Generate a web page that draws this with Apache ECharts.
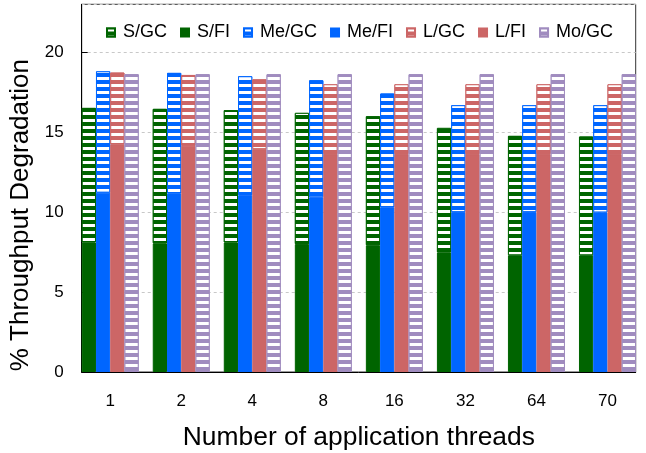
<!DOCTYPE html>
<html>
<head>
<meta charset="utf-8">
<script src="https://cdn.jsdelivr.net/npm/echarts@6/dist/echarts.min.js"></script>
<style>
html,body{margin:0;padding:0;background:#fff;}
#chart{width:646px;height:453px;}
</style>
</head>
<body>
<div id="chart"></div>
<script>
// Categories (number of application threads)
const categories = ['1', '2', '4', '8', '16', '32', '64', '70'];

// Stacked segments (% throughput degradation)
const sFI  = [8.10, 8.05, 8.10, 8.00, 7.93, 7.48, 7.30, 7.30];
const sGC  = [8.42, 8.41, 8.28, 8.21, 8.07, 7.79, 7.47, 7.43];
const meFI = [11.22, 11.16, 11.06, 10.93, 10.30, 10.00, 10.00, 9.98];
const meGC = [7.59, 7.55, 7.44, 7.32, 7.12, 6.69, 6.69, 6.71];
const lFI  = [14.25, 14.15, 13.94, 13.63, 13.63, 13.63, 13.63, 13.63];
const lGC  = [4.48, 4.43, 4.37, 4.37, 4.37, 4.37, 4.37, 4.37];
const moGC = [18.63, 18.63, 18.63, 18.63, 18.63, 18.63, 18.63, 18.63];

const yTicks = [0, 5, 10, 15, 20];

const FONT = '"Liberation Sans", Arial, Helvetica, sans-serif';
const C = { S: '#006400', Me: '#0066ff', L: '#cc6666', Mo: '#a08cbf' };

const hatch = { symbol: 'rect', symbolSize: 1, dashArrayX: [1, 0], dashArrayY: [3, 4], color: '#ffffff', rotation: 0 };

function bar(name, data, stack, color, hatched) {
  const itemStyle = { color: color, borderColor: color, borderWidth: 1 };
  if (hatched) itemStyle.decal = hatch;
  return {
    name: name, type: 'bar', data: data, stack: stack,
    xAxisIndex: 0, yAxisIndex: 0,
    barWidth: 14.25, barGap: '0%',
    itemStyle: itemStyle,
    emphasis: { disabled: true },
    animation: false
  };
}

const chart = echarts.init(document.getElementById('chart'), null, { renderer: 'canvas' });
chart.setOption({
  animation: false,
  backgroundColor: '#ffffff',
  textStyle: { fontFamily: FONT },
  legend: {
    left: 106, top: 23.5, padding: 0, icon: 'rect',
    itemWidth: 8, itemHeight: 8, itemGap: 13,
    data: ['S/GC', 'S/FI', 'Me/GC', 'Me/FI', 'L/GC', 'L/FI', 'Mo/GC'],
    textStyle: { fontSize: 18, color: '#000', fontFamily: FONT, padding: [0, 0, 0, 3] },
    selectedMode: false
  },
  grid: [
    { left: 74.7, right: 3, top: 4.3, bottom: 81, containLabel: false, outerBoundsMode: 'none' },
    { left: 81.7, right: 10.3, top: 4.3, bottom: 81, containLabel: false, outerBoundsMode: 'none',
      show: true, borderColor: '#333', borderWidth: 1, backgroundColor: 'transparent' }
  ],
  xAxis: [
    {
      gridIndex: 0, type: 'category', data: categories, boundaryGap: true,
      axisLine: { show: false }, axisTick: { show: false },
      axisLabel: { fontSize: 17, color: '#000', margin: 21, fontFamily: FONT },
      splitLine: { show: false },
      name: 'Number of application threads', nameLocation: 'middle', nameGap: 53,
      nameTextStyle: { fontSize: 26.4, color: '#000', fontFamily: FONT }
    },
    {
      gridIndex: 1, type: 'value', min: 0, max: 1,
      axisLine: { show: true, lineStyle: { color: '#000', width: 1 } },
      axisTick: { show: false }, axisLabel: { show: false }, splitLine: { show: false }
    }
  ],
  yAxis: [
    { gridIndex: 0, type: 'value', min: 0, max: 23, interval: 5, show: false },
    {
      gridIndex: 1, type: 'value', min: 0, max: 23, interval: 5,
      axisLine: { show: true, lineStyle: { color: '#000', width: 1 } },
      axisTick: { show: true, inside: true, length: 6, lineStyle: { color: '#000' } },
      axisLabel: { fontSize: 17, color: '#000', margin: 18, fontFamily: FONT, showMaxLabel: false,
        formatter: v => (yTicks.indexOf(v) >= 0 ? String(v) : '') },
      splitLine: { show: true, lineStyle: { color: '#c8c8c8', type: [3, 3], width: 1 } },
      name: '% Throughput Degradation', nameLocation: 'middle', nameGap: 47,
      nameTextStyle: { fontSize: 26, color: '#000', fontFamily: FONT, padding: [0, 54, 0, 0] }
    }
  ],
  series: [
    bar('S/FI', sFI, 'S', C.S, false),
    bar('S/GC', sGC, 'S', C.S, true),
    bar('Me/FI', meFI, 'Me', C.Me, false),
    bar('Me/GC', meGC, 'Me', C.Me, true),
    bar('L/FI', lFI, 'L', C.L, false),
    bar('L/GC', lGC, 'L', C.L, true),
    bar('Mo/GC', moGC, 'Mo', C.Mo, true)
  ]
});
</script>
</body>
</html>
